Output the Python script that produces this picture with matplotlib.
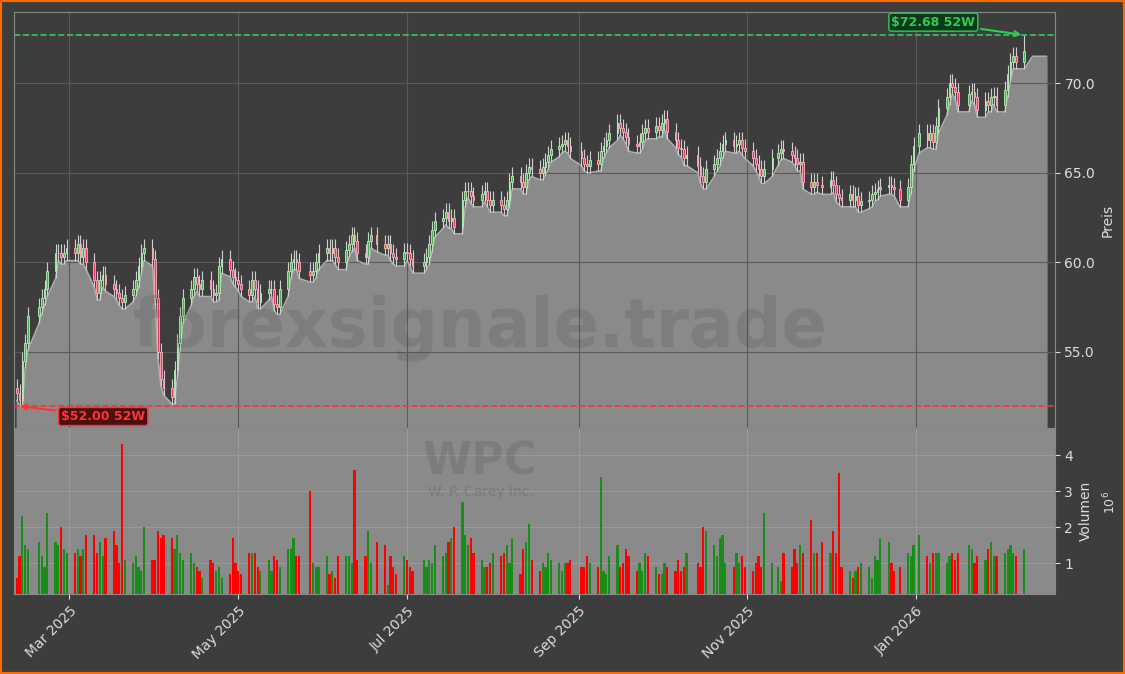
import matplotlib
matplotlib.use("Agg")
import matplotlib.pyplot as plt
import matplotlib.dates as mdates
import numpy as np
import pandas as pd
from pandas.tseries.holiday import USFederalHolidayCalendar
from pandas.tseries.offsets import CustomBusinessDay

# daily closes, from Feb 10 2025
closes = [
    52.7, 52.3, 54.5, 55.5, 57.0, 57.5, 58.0, 58.5, 59.5, 60.5, 60.5, 60.3, 60.5, 60.8,
    60.5, 61.0, 60.3, 60.8, 60.0, 59.0, 58.3, 59.0, 59.3, 58.8, 58.5, 58.3, 58.0, 57.8, 58.2, 58.5, 59.0, 59.8, 60.5, 60.8, 60.2,
    58.0, 55.0, 53.5, 53.0, 52.5, 54.0, 55.5, 57.0, 58.0, 58.5, 59.2, 58.8, 58.5, 59.0, 58.5, 58.2, 58.3, 59.8, 60.2, 59.6, 59.2,
    59.0, 58.8, 58.5, 58.2, 59.0, 58.5, 57.8, 58.3, 58.5, 58.5, 57.7, 57.5, 58.5, 59.5, 60.0, 60.2, 60.0, 59.5, 59.3, 59.5, 60.0,
    60.5, 60.8, 60.5, 60.8, 60.3, 60.0, 60.7, 61.0, 61.5, 61.2, 60.5, 60.3, 61.2, 61.5, 61.0, 60.8, 61.0, 60.5, 60.3, 60.2, 60.6,
    60.5, 60.2, 59.8, 60.0, 60.3, 61.0, 61.8, 62.3, 62.5, 62.8, 62.3, 62.5, 62.0, 63.5, 64.0, 64.0, 63.7, 63.5, 63.8, 64.0, 63.5, 63.2,
    63.5, 63.2, 63.0, 63.5, 64.5, 64.8, 64.5, 64.2, 65.0, 65.3, 65.2, 65.0, 65.3, 65.6, 66.0, 66.3, 66.5, 66.6, 66.8, 66.5, 66.2,
    65.8, 65.5, 65.4, 65.7, 65.5, 66.2, 66.5, 66.8, 67.2, 67.8, 67.5, 67.3, 67.0, 66.6, 66.5, 66.7, 67.2, 67.5, 67.3, 67.6, 67.4,
    67.8, 68.0, 67.3, 66.8, 66.4, 66.3, 65.8, 66.0, 65.4, 64.8, 64.5, 65.2, 65.5, 65.8, 66.2, 66.6, 66.8, 66.5, 66.6, 66.8, 66.4, 66.2, 65.8,
    65.5, 65.2, 64.8, 65.2, 65.8, 66.1, 66.3, 66.2, 66.0, 65.8, 65.5, 65.6, 64.5, 64.2, 64.5, 64.3, 64.2, 64.6, 64.3,
    63.8, 63.6, 63.5, 63.8, 63.5, 63.7, 63.2, 63.4, 63.5, 63.8, 63.9, 64.1, 64.2, 64.3, 64.2, 64.1, 63.5, 64.2, 65.5, 66.5, 67.2, 66.8,
    67.2, 66.7, 67.6, 68.6, 69.2, 70.0, 69.8, 69.5, 68.8, 69.4, 69.5, 69.2, 68.5, 69.0, 68.8, 69.2, 69.3, 68.8, 69.6, 70.5,
    71.2, 71.5, 71.2, 71.8,
]
first_open = 53.0

# daily volume in millions
volumes = [
    0.6, 1.2, 2.3, 1.5, 1.4, 1.6, 1.2, 0.9, 2.4, 1.6, 1.5, 2.0, 1.4, 1.3,
    1.3, 1.4, 1.2, 1.4, 1.8, 1.8, 1.3, 1.6, 1.2, 1.7, 1.9, 1.5, 1.0, 4.3, 1.1, 1.0, 1.2, 0.9, 0.8, 2.0, 1.1,
    1.1, 1.9, 1.7, 1.8, 1.7, 1.4, 1.8, 1.3, 1.1, 1.3, 1.0, 0.9, 0.8, 0.6, 1.1, 1.0, 0.8, 0.9, 0.6, 0.7, 1.7,
    1.0, 0.8, 0.7, 1.3, 1.3, 1.3, 0.9, 0.8, 1.1, 0.8, 1.2, 1.1, 0.9, 1.4, 1.4, 1.7, 1.2, 1.2, 3.0, 1.0, 0.9,
    0.9, 1.2, 0.7, 0.8, 0.6, 1.2, 1.2, 1.2, 1.0, 3.6, 1.1, 1.2, 1.9, 1.0, 1.6, 1.5, 0.4, 1.2, 0.9, 0.7, 1.2,
    1.1, 0.9, 0.8, 1.1, 0.9, 1.1, 1.0, 1.5, 1.2, 1.3, 1.6, 1.7, 2.0, 2.7, 1.8, 1.5, 1.7, 1.3, 1.1, 0.9, 0.9, 1.0,
    1.3, 1.2, 1.3, 1.5, 1.0, 1.7, 0.7, 1.4, 1.6, 2.1, 1.1, 0.8, 1.0, 0.9, 1.3, 1.1, 1.0, 0.8, 1.0, 1.0, 1.1,
    0.9, 0.9, 1.2, 1.0, 0.9, 3.4, 0.8, 0.7, 1.2, 1.5, 0.9, 1.0, 1.4, 1.2, 0.8, 1.0, 0.8, 1.3, 1.2, 0.9, 0.7,
    0.7, 1.0, 0.9, 0.8, 1.1, 0.8, 0.9, 1.3, 1.0, 0.9, 2.0, 1.9, 1.5, 1.2, 1.7, 1.8, 1.0, 0.9, 1.3, 1.0, 1.2, 0.9, 0.8,
    1.0, 1.2, 0.9, 2.4, 1.0, 0.9, 0.5, 1.3, 0.9, 1.4, 1.0, 1.5, 1.3, 2.2, 1.3, 1.3, 1.6, 1.3, 1.9,
    1.3, 3.5, 0.9, 0.8, 0.6, 0.8, 0.9, 1.0, 0.9, 0.6, 1.2, 1.1, 1.7, 1.6, 1.0, 0.8, 0.9, 1.3, 1.2, 1.5, 1.8, 1.2,
    1.0, 1.3, 1.3, 1.3, 1.0, 1.2, 1.3, 1.1, 1.3, 1.5, 1.4, 1.0, 1.2, 1.1, 1.4, 1.6, 1.2, 1.2, 1.3, 1.4,
    1.5, 1.3, 1.2, 1.4,
]

low_52w = 52.00
high_52w = 72.68

bday = CustomBusinessDay(calendar=USFederalHolidayCalendar())
dates = pd.date_range("2025-02-10", periods=len(closes), freq=bday)
closes = np.array(closes)
opens = np.concatenate([[first_open], closes[:-1]])
highs = np.maximum(opens, closes) + 0.5
lows = np.minimum(opens, closes) - 0.4
highs[-1] = high_52w
lows[np.argmin(closes)] = low_52w
x = mdates.date2num(dates)
up = closes >= opens

bg = "#3d3d3d"
fig = plt.figure(figsize=(11.25, 6.74), dpi=100, facecolor=bg)
fig.patches.append(plt.Rectangle((0, 0), 1, 1, transform=fig.transFigure,
                                 fill=False, edgecolor="#ff6a00", linewidth=3))
ax = fig.add_axes([0.0125, 0.365, 0.925, 0.617])
axv = fig.add_axes([0.0125, 0.118, 0.925, 0.247], sharex=ax)

# price pane
ax.set_facecolor(bg)
xa = np.concatenate([x, [x[-1] + 3, x[-1] + 8]])
la = np.concatenate([lows, [closes[-1] - 0.3, closes[-1] - 0.3]])
ax.fill_between(xa, la, 40, color="#8a8a8a", zorder=1)
ax.plot(xa, la, color="#b0b0b0", lw=1, zorder=2)
ax.vlines(x, lows, highs, color="#d0d0d0", lw=0.8, zorder=3)
ax.bar(x[up], (closes - opens)[up], bottom=opens[up], width=0.6,
       color="#4caf50", edgecolor="#b9f0b9", lw=0.6, zorder=4)
ax.bar(x[~up], (closes - opens)[~up], bottom=opens[~up], width=0.6,
       color="#ff3366", edgecolor="#ffb0c0", lw=0.6, zorder=4)
ax.axhline(high_52w, color="#2ecc55", ls="--", lw=1.2, zorder=5)
ax.axhline(low_52w, color="#ff3333", ls="--", lw=1.2, zorder=5)
ax.annotate(f"${high_52w:.2f} 52W", xy=(x[-1], high_52w), xytext=(x[-1] - 48, 73.4),
            color="#2ecc55", fontsize=9, fontweight="bold", va="center",
            bbox=dict(boxstyle="round,pad=0.2", fc="#0a3a1a", ec="#2ecc55"),
            arrowprops=dict(arrowstyle="->", color="#2ecc55", lw=1.5), zorder=6)
ax.annotate(f"${low_52w:.2f} 52W", xy=(x[0], low_52w), xytext=(x[0] + 16, 51.4),
            color="#ff3333", fontsize=9, fontweight="bold", va="center",
            bbox=dict(boxstyle="round,pad=0.2", fc="#4a0f0f", ec="#ff3333"),
            arrowprops=dict(arrowstyle="->", color="#ff3333", lw=1.5), zorder=6)
ax.set_ylim(50.76, 73.96)
ax.set_xlim(mdates.date2num(pd.Timestamp("2025-02-09")),
            mdates.date2num(pd.Timestamp("2026-02-20")))
ax.yaxis.tick_right()
ax.yaxis.set_label_position("right")
ax.set_ylabel("Preis", color="#dddddd")
ax.set_yticks([55, 60, 65, 70])
ax.yaxis.set_major_formatter(matplotlib.ticker.FormatStrFormatter("%.1f"))
ax.grid(True, color="#5a5a5a", lw=0.8, zorder=0)
ax.tick_params(colors="#dddddd", labelbottom=False)
for s in ax.spines.values():
    s.set_color("#888888")

# volume pane
axv.set_facecolor("#8a8a8a")
axv.bar(x, volumes, width=0.8, color=np.where(up, "#1a8c1a", "#ff0000"), zorder=3)
axv.set_ylim(0.14, 4.75)
axv.set_yticks([1, 2, 3, 4])
axv.yaxis.tick_right()
axv.yaxis.set_label_position("right")
axv.set_ylabel("Volumen", color="#dddddd")
axv.text(1.045, 0.55, "$10^6$", transform=axv.transAxes, rotation=90,
         color="#dddddd", fontsize=9, va="center")
axv.grid(True, color="#9a9a9a", lw=0.8, zorder=0)
axv.tick_params(colors="#dddddd")
axv.xaxis.set_major_locator(mdates.MonthLocator(bymonth=[1, 3, 5, 7, 9, 11]))
axv.xaxis.set_major_formatter(mdates.DateFormatter("%b %Y"))
plt.setp(axv.get_xticklabels(), rotation=45, ha="right", rotation_mode="anchor")
for s in axv.spines.values():
    s.set_color("#888888")

# watermarks
fig.text(0.427, 0.513, "forexsignale.trade", ha="center", va="center",
         fontsize=48, fontweight="bold", color="#444444", alpha=0.18)
fig.text(0.427, 0.315, "WPC", ha="center", va="center",
         fontsize=32, fontweight="bold", color="#555555", alpha=0.25)
fig.text(0.427, 0.27, "W. P. Carey Inc.", ha="center", va="center",
         fontsize=10, color="#555555", alpha=0.3)

fig.savefig("out.png", dpi=100, facecolor=bg)
